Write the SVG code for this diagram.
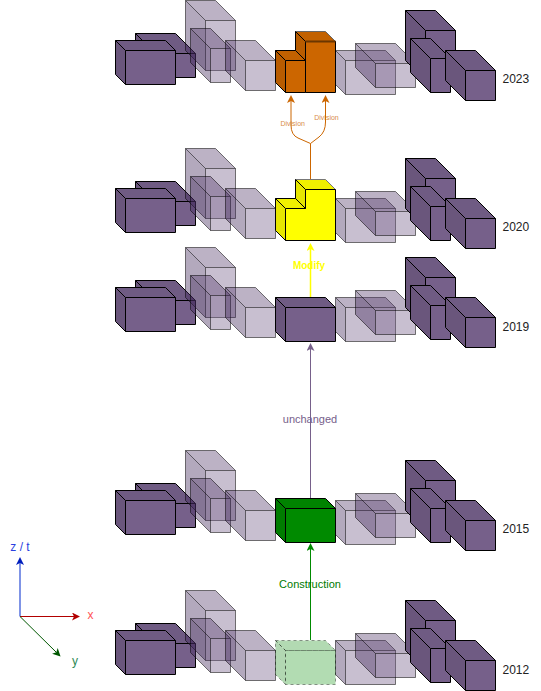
<svg xmlns="http://www.w3.org/2000/svg" width="541" height="691" viewBox="0 0 541 691">
<style>
text{font-family:"Liberation Sans",Arial,sans-serif;font-size:11px;text-anchor:middle}
.yr{font-size:12px;fill:#222;text-anchor:start}
.cube path{stroke:#000;stroke-width:1;stroke-linejoin:round}
.pf{fill:#76608a}.pt{fill:#6f5b83}.pl{fill:#6a567c}
.ghost path{stroke:none;fill-opacity:.4}
.ghost .pt{fill:#583e6e}.ghost .pl{fill:#41285a}
.ghost path.e{fill:none;stroke:#000;stroke-opacity:.52}
.of{fill:#cc6600}.ot{fill:#c26100}.ol{fill:#b85c00}
.yf{fill:#ffff00}.yt{fill:#f0f000}.yl{fill:#e6e600}
.gf{fill:#008a00}.gt{fill:#008300}.gl{fill:#007c00}
.plan path{fill-opacity:.3;stroke:#000;stroke-opacity:.4;stroke-dasharray:3 3}
.conn{fill:none;stroke-width:1}
</style>
<defs>
<marker id="aO" markerUnits="userSpaceOnUse" markerWidth="8" markerHeight="8" viewBox="0 0 8 8" refX="2" refY="4" orient="auto"><path d="M8 4L0 0L2 4L0 8Z" fill="#cc6600"/></marker>
<marker id="aY" markerUnits="userSpaceOnUse" markerWidth="8" markerHeight="8" viewBox="0 0 8 8" refX="2" refY="4" orient="auto"><path d="M8 4L0 0L2 4L0 8Z" fill="#ffff00"/></marker>
<marker id="aP" markerUnits="userSpaceOnUse" markerWidth="8" markerHeight="8" viewBox="0 0 8 8" refX="2" refY="4" orient="auto"><path d="M8 4L0 0L2 4L0 8Z" fill="#76608a"/></marker>
<marker id="aG" markerUnits="userSpaceOnUse" markerWidth="8" markerHeight="8" viewBox="0 0 8 8" refX="2" refY="4" orient="auto"><path d="M8 4L0 0L2 4L0 8Z" fill="#008a00"/></marker>
<marker id="aB" markerUnits="userSpaceOnUse" markerWidth="8" markerHeight="8" viewBox="0 0 8 8" refX="2" refY="4" orient="auto"><path d="M8 4L0 0L2 4L0 8Z" fill="#001dbc"/></marker>
<marker id="aR" markerUnits="userSpaceOnUse" markerWidth="8" markerHeight="8" viewBox="0 0 8 8" refX="2" refY="4" orient="auto"><path d="M8 4L0 0L2 4L0 8Z" fill="#b20000"/></marker>
<marker id="aD" markerUnits="userSpaceOnUse" markerWidth="8" markerHeight="8" viewBox="0 0 8 8" refX="2" refY="4" orient="auto"><path d="M8 4L0 0L2 4L0 8Z" fill="#005700"/></marker>
<g id="left-blocks">
<g class="cube"><path class="pf" d="M155.5 53.5h40v24h-40z"/><path class="pt" d="M135.5 33.5h40l20 20h-40z"/><path class="pl" d="M135.5 33.5l20 20v24l-20-20z"/></g>
<g class="cube"><path class="pf" d="M125.5 50.5h50v34h-50z"/><path class="pt" d="M115.5 40.5h50l10 10h-50z"/><path class="pl" d="M115.5 40.5l10 10v34l-10-10z"/></g>
<g class="cube ghost"><path class="pf" d="M205.5 20.5h30v50h-30z"/><path class="pt" d="M185.5 .5h30l20 20h-30z"/><path class="pl" d="M185.5 .5l20 20v50l-20-20z"/><path class="e" d="M185.5 .5h30l20 20v50h-30l-20-20zM185.5 .5l20 20h30M205.5 20.5v50"/></g>
<g class="cube ghost"><path class="pf" d="M210.5 48.5h20v34h-20z"/><path class="pt" d="M190.5 28.5h20l20 20h-20z"/><path class="pl" d="M190.5 28.5l20 20v34l-20-20z"/><path class="e" d="M190.5 28.5h20l20 20v34h-20l-20-20zM190.5 28.5l20 20h20M210.5 48.5v34"/></g>
<g class="cube ghost"><path class="pf" d="M245.5 60.5h30v30h-30z"/><path class="pt" d="M225.5 40.5h30l20 20h-30z"/><path class="pl" d="M225.5 40.5l20 20v30l-20-20z"/><path class="e" d="M225.5 40.5h30l20 20v30h-30l-20-20zM225.5 40.5l20 20h30M245.5 60.5v30"/></g>
</g>
<g id="right-blocks">
<g class="cube ghost"><path class="pf" d="M345.5 60.5h50v34h-50z"/><path class="pt" d="M335.5 50.5h50l10 10h-50z"/><path class="pl" d="M335.5 50.5l10 10v34l-10-10z"/><path class="e" d="M335.5 50.5h50l10 10v34h-50l-10-10zM335.5 50.5l10 10h50M345.5 60.5v34"/></g>
<g class="cube ghost"><path class="pf" d="M375.5 63.5h40v24h-40z"/><path class="pt" d="M355.5 43.5h40l20 20h-40z"/><path class="pl" d="M355.5 43.5l20 20v24l-20-20z"/><path class="e" d="M355.5 43.5h40l20 20v24h-40l-20-20zM355.5 43.5l20 20h40M375.5 63.5v24"/></g>
<g class="cube"><path class="pf" d="M425.5 30.5h30v50h-30z"/><path class="pt" d="M405.5 10.5h30l20 20h-30z"/><path class="pl" d="M405.5 10.5l20 20v50l-20-20z"/></g>
<g class="cube"><path class="pf" d="M430.5 58.5h20v34h-20z"/><path class="pt" d="M410.5 38.5h20l20 20h-20z"/><path class="pl" d="M410.5 38.5l20 20v34l-20-20z"/></g>
<g class="cube"><path class="pf" d="M465.5 70.5h30v30h-30z"/><path class="pt" d="M445.5 50.5h30l20 20h-30z"/><path class="pl" d="M445.5 50.5l20 20v30l-20-20z"/></g>
</g>
</defs>

<g id="row-2023"><use href="#left-blocks"/><use href="#right-blocks"/></g>
<g id="row-2020" transform="translate(0 148)"><use href="#left-blocks"/><use href="#right-blocks"/></g>
<g id="row-2019" transform="translate(0 247)"><use href="#left-blocks"/><use href="#right-blocks"/></g>
<g id="row-2015" transform="translate(0 450)"><use href="#left-blocks"/><use href="#right-blocks"/></g>
<g id="row-2012" transform="translate(0 590)"><use href="#left-blocks"/><use href="#right-blocks"/></g>

<g id="block-2023" class="cube">
<path class="ot" d="M295.5 31.5h30l10 10h-30z" style="stroke:#666"/>
<path class="ol" d="M295.5 31.5l10 10v19h-10z"/>
<path class="of" d="M305.5 41.5h30v51h-30z"/>
<path d="M305.5 41.5h30" style="stroke:#6b3600;stroke-width:2"/>
<path class="of" d="M285.5 60.5h20v32h-20z"/>
<path class="ot" d="M275.5 50.5h20l10 10h-20z"/>
<path class="ol" d="M275.5 50.5l10 10v32l-10-10z"/>
</g>
<g id="block-2020" class="cube">
<path class="yt" d="M295.5 179.5h30l10 10h-30z" style="stroke:#777"/>
<path class="yl" d="M295.5 179.5l10 10v19h-10z"/>
<path class="yf" d="M305.5 189.5h30v51h-50v-32h20z"/>
<path class="yt" d="M275.5 198.5h20l10 10h-20z"/>
<path class="yl" d="M275.5 198.5l10 10v32l-10-10z"/>
</g>
<g id="block-2019" class="cube"><path class="pf" d="M285.5 307.5h50v34h-50z"/><path class="pt" d="M275.5 297.5h50l10 10h-50z"/><path class="pl" d="M275.5 297.5l10 10v34l-10-10z"/></g>
<g id="block-2015" class="cube"><path class="gf" d="M285.5 508.5h50v34h-50z"/><path class="gt" d="M275.5 498.5h50l10 10h-50z"/><path class="gl" d="M275.5 498.5l10 10v34l-10-10z"/></g>
<g id="block-2012" class="cube plan"><path class="gf" d="M285.5 650.5h50v34h-50z"/><path class="gt" d="M275.5 640.5h50l10 10h-50z"/><path class="gl" d="M275.5 640.5l10 10v34l-10-10z"/></g>

<g id="connectors">
<path class="conn" stroke="#008a00" d="M310.5 640V549" marker-end="url(#aG)"/>
<path class="conn" stroke="#76608a" d="M310.5 498V349" marker-end="url(#aP)"/>
<path class="conn" stroke="#ffff00" d="M310.5 297V249" style="stroke-width:1.5" marker-end="url(#aY)"/>
<path class="conn" stroke="#cc6600" d="M310.5 179V143.5L298 138Q291 135 291 125V101" marker-end="url(#aO)"/>
<path class="conn" stroke="#cc6600" d="M310.5 143.5L319 137Q325.5 132 325.5 122V101" marker-end="url(#aO)"/>
<path class="conn" stroke="#7f94e6" style="stroke-width:2" d="M20 616.5V563" marker-end="url(#aB)"/>
<path class="conn" stroke="#b20000" d="M20 616.5H74" marker-end="url(#aR)"/>
<path class="conn" stroke="#005700" d="M20 616.5L56.3 652.3" marker-end="url(#aD)"/>
</g>

<g id="labels">
<text x="310" y="588" fill="#007a00">Construction</text>
<text x="310" y="423" fill="#76608a">unchanged</text>
<text x="309" y="269" fill="#ffff00" font-weight="bold" style="font-size:10px">Modify</text>
<text x="292.7" y="126" fill="#cc6600" opacity=".75" style="font-size:7px">Division</text>
<text x="326.5" y="120" fill="#cc6600" opacity=".75" style="font-size:7px">Division</text>
<text x="20" y="551" fill="#2a3fe0" style="font-size:12px">z / t</text>
<text x="90.5" y="619" fill="#ff5555" style="font-size:12px">x</text>
<text x="75" y="665" fill="#2e8b57" style="font-size:12px">y</text>
<text class="yr" x="502.5" y="83">2023</text>
<text class="yr" x="502.5" y="231">2020</text>
<text class="yr" x="502.5" y="331">2019</text>
<text class="yr" x="502.5" y="533">2015</text>
<text class="yr" x="502.5" y="674">2012</text>
</g>
</svg>
